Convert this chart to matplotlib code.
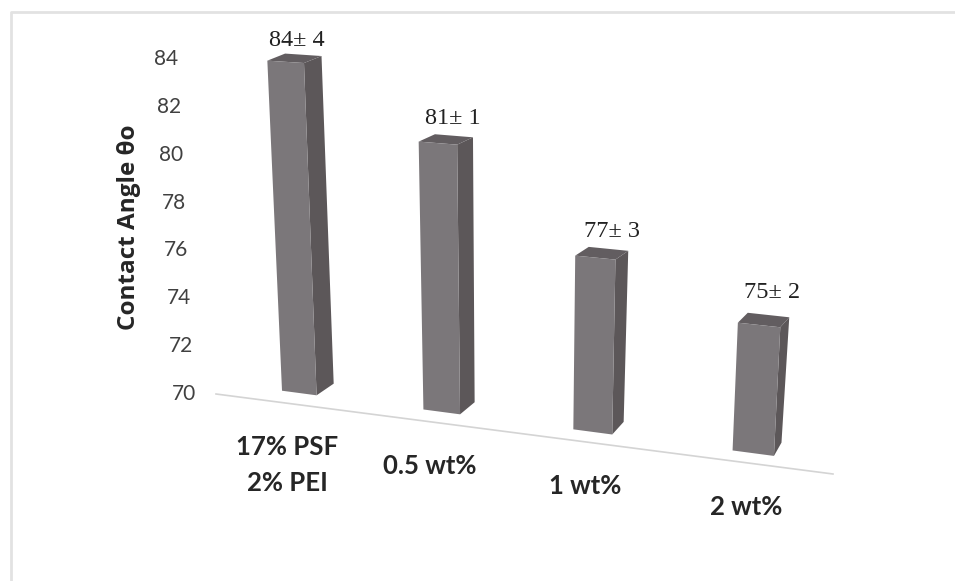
import numpy as np
import matplotlib
matplotlib.use("Agg")
import matplotlib.pyplot as plt

categories = ["17% PSF\n2% PEI", "0.5 wt%", "1 wt%", "2 wt%"]
angles = [84, 81.2, 77.2, 75.2]
angle_labels = ["84\u00b1 4", "81\u00b1 1", "77\u00b1 3", "75\u00b1 2"]
ticks = [70, 72, 74, 76, 78, 80, 82, 84]

FRONT = "#7b777a"
SIDE = "#5c5759"
TOP = "#625d60"
half_w = 0.125
label_dx = [-6, -1, 4, 4]
label_dy = [-14, -17, -17, -23]
cat_dx = [-12, -12, -8, -7]


def homography(src, dst):
    # solve the perspective map from (category, angle) to picture pixels
    rows, rhs = [], []
    for (x, y), (u, v) in zip(src, dst):
        rows.append([x, y, 1, 0, 0, 0, -u * x, -u * y])
        rows.append([0, 0, 0, x, y, 1, -v * x, -v * y])
        rhs += [u, v]
    h = np.linalg.lstsq(np.array(rows, float), np.array(rhs, float), rcond=None)[0]
    return np.append(h, 1).reshape(3, 3)


def project(h, x, y):
    p = h @ np.array([x, y, 1.0])
    return p[0] / p[2], p[1] / p[2]


# calibration points: bar base and bar top centres as seen in the picture
anchors = [(0, 70), (1, 70), (2, 70), (3, 70), (0, 84), (1, 81.2), (2, 77.2), (3, 75.2)]
front_h = homography(anchors, [(299.5, 393.5), (441, 412), (592.5, 431.5), (754.5, 452),
                               (286.5, 60.5), (437.5, 144), (594, 258.5), (759, 325.5)])
back_h = homography(anchors, [(316.5, 381.5), (457, 400), (603.5, 419.5), (762.5, 439),
                              (304, 53.5), (453.5, 137), (607.5, 249.5), (768.5, 315)])

fig = plt.figure(figsize=(9.55, 5.81), dpi=100)
ax = fig.add_axes([0, 0, 1, 1])
ax.set_xlim(0, 955)
ax.set_ylim(581, 0)
ax.axis("off")

# picture frame
ax.plot([11, 11, 955], [581, 12, 12], color="#e2e2e2", lw=2)

# skewed category axis
ax.plot(*zip((216, 394), (833, 474)), color="#d4d4d4", lw=1.2)

for i, val in enumerate(angles):
    fl_b = project(front_h, i - half_w, 70)
    fr_b = project(front_h, i + half_w, 70)
    fl_t = project(front_h, i - half_w, val)
    fr_t = project(front_h, i + half_w, val)
    br_b = project(back_h, i + half_w, 70)
    br_t = project(back_h, i + half_w, val)
    bl_t = project(back_h, i - half_w, val)
    ax.fill(*zip(fr_b, br_b, br_t, fr_t), color=SIDE, lw=0)
    ax.fill(*zip(fl_t, fr_t, br_t, bl_t), color=TOP, lw=0)
    ax.fill(*zip(fl_b, fr_b, fr_t, fl_t), color=FRONT, lw=0)

    cx, cy = project(back_h, i, val)
    ax.text(cx + label_dx[i], cy + label_dy[i], angle_labels[i], ha="center", va="center",
            family="Liberation Serif", fontsize=17.5, color="#222222")

    bx, by = project(front_h, i, 70)
    for j, line in enumerate(categories[i].split("\n")):
        ax.text(bx + cat_dx[i], by + 54 + 36 * j, line, ha="center", va="center",
                family="Lato", weight="bold", fontsize=18.5, color="#262626")

for t in ticks:
    tx = np.interp(t, [70, 84], [184, 166])
    ty = np.interp(t, [70, 84], [394, 59])
    ax.text(tx, ty, str(t), ha="center", va="center", family="Lato",
            fontsize=15, color="#404040")

ax.text(129, 227, "Contact Angle \u03b8o", rotation=90, ha="center", va="center",
        family="Open Sans", weight="bold", fontsize=17.5, color="#262626")

fig.savefig("out.png", dpi=100)
